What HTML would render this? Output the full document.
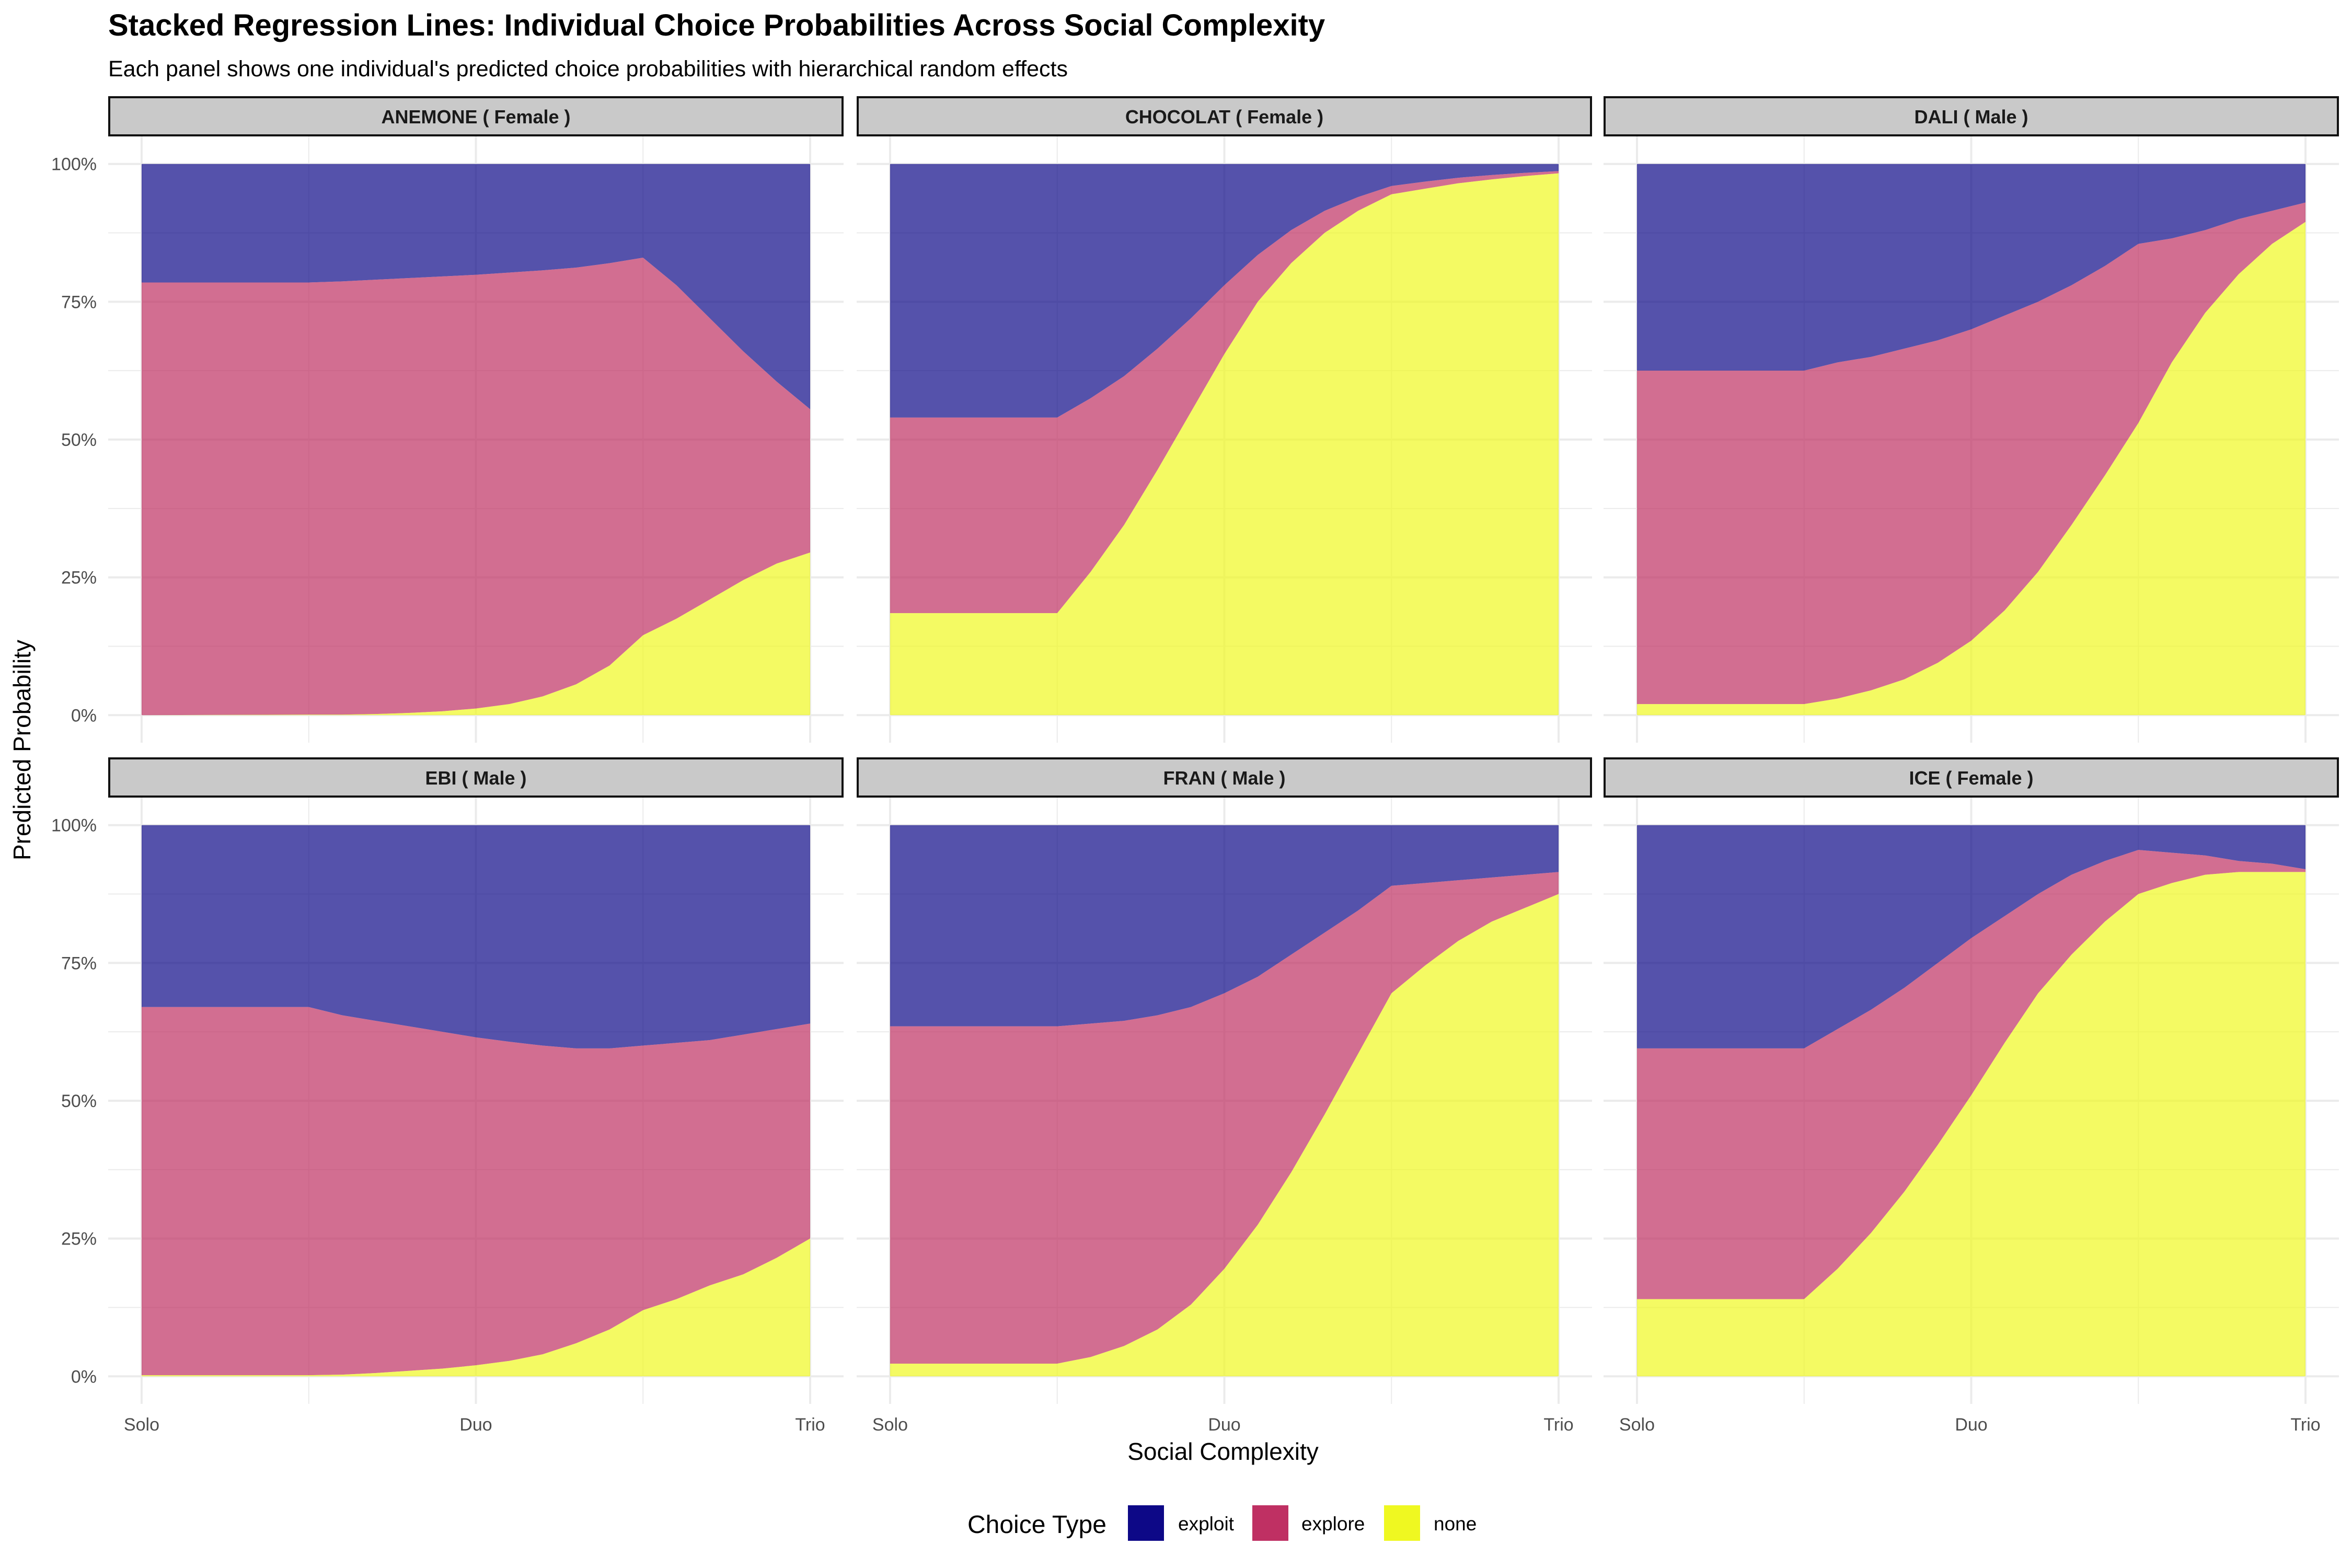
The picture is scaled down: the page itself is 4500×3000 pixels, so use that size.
<!DOCTYPE html>
<html><head><meta charset="utf-8"><style>
html,body{margin:0;padding:0;background:#fff}
svg{display:block;font-family:"Liberation Sans",sans-serif}
</style></head><body>
<svg id="chart" width="4500" height="3000" viewBox="0 0 4500 3000" xmlns="http://www.w3.org/2000/svg">
<text x="207" y="68" font-size="58" font-weight="bold" fill="#000">Stacked Regression Lines: Individual Choice Probabilities Across Social Complexity</text>
<text x="207" y="146" font-size="43" fill="#000">Each panel shows one individual's predicted choice probabilities with hierarchical random effects</text>
<g id="panels"></g>
<text x="2340" y="2793" font-size="46" text-anchor="middle" fill="#000">Social Complexity</text>
<text transform="translate(58,1435) rotate(-90)" font-size="46" text-anchor="middle" fill="#000">Predicted Probability</text>
<g>
<text x="1851" y="2933" font-size="48" fill="#000">Choice Type</text>
<rect x="2158" y="2880" width="69" height="68" fill="#0D0887"/>
<text x="2254" y="2928" font-size="37" fill="#000">exploit</text>
<rect x="2396" y="2880" width="69" height="68" fill="#BF3063"/>
<text x="2490" y="2928" font-size="37" fill="#000">explore</text>
<rect x="2648" y="2880" width="69" height="68" fill="#EFF821"/>
<text x="2743" y="2928" font-size="37" fill="#000">none</text>
</g>
</svg>
<script>
const xValues=[1,1.5,1.6,1.7,1.8,1.9,2.0,2.1,2.2,2.3,2.4,2.5,2.6,2.7,2.8,2.9,3.0];
const xTickLabels=["Solo","Duo","Trio"];
const yTickLabels=["0%","25%","50%","75%","100%"];
const panelTitles=["ANEMONE ( Female )","CHOCOLAT ( Female )","DALI ( Male )","EBI ( Male )","FRAN ( Male )","ICE ( Female )"];
// cumulative "none" share (%)
const noneAnemone=[0,0.1,0.1,0.2,0.4,0.7,1.2,2,3.4,5.6,9,14.5,17.5,21,24.5,27.5,29.5];
const noneChocolat=[18.5,18.5,26,34.5,44.5,55,65.5,75,82,87.5,91.5,94.5,95.5,96.5,97.2,97.8,98.3];
const noneDali=[2,2,3,4.5,6.5,9.5,13.5,19,26,34.5,43.5,53,64,73,80,85.5,89.5];
const noneEbi=[0.2,0.2,0.3,0.6,1,1.4,2,2.8,4,6,8.5,12,14,16.5,18.5,21.5,25];
const noneFran=[2.3,2.3,3.5,5.5,8.5,13,19.5,27.5,37,47.5,58.5,69.5,74.5,79,82.5,85,87.5];
const noneIce=[14,14,19.5,26,33.5,42,51,60.5,69.5,76.5,82.5,87.5,89.5,91,91.5,91.5,91.5];
// cumulative none+explore (%)
const topAnemone=[78.5,78.5,78.7,79,79.3,79.6,79.9,80.3,80.7,81.2,82,83,78,72,66,60.5,55.5];
const topChocolat=[54,54,57.5,61.5,66.5,72,78,83.5,88,91.5,94,96,96.8,97.5,98,98.4,98.7];
const topDali=[62.5,62.5,64,65,66.5,68,70,72.5,75,78,81.5,85.5,86.5,88,90,91.5,93];
const topEbi=[67,67,65.5,64.5,63.5,62.5,61.5,60.7,60,59.5,59.5,60,60.5,61,62,63,64];
const topFran=[63.5,63.5,64,64.5,65.5,67,69.5,72.5,76.5,80.5,84.5,89,89.5,90,90.5,91,91.5];
const topIce=[59.5,59.5,63,66.5,70.5,75,79.5,83.5,87.5,91,93.5,95.5,95,94.5,93.5,93,92];
const noneSeries=[noneAnemone,noneChocolat,noneDali,noneEbi,noneFran,noneIce];
const topSeries=[topAnemone,topChocolat,topDali,topEbi,topFran,topIce];

const NS="http://www.w3.org/2000/svg";
const g=document.getElementById('panels');
const colL=[207,1639,3068], W=1407;
const rowTop=[184,1449], stripH=77, plotH=1160;
function mk(t,a,p){const e=document.createElementNS(NS,t);for(const k in a)e.setAttribute(k,a[k]);(p||g).appendChild(e);return e;}
for(let i=0;i<6;i++){
  const c=i%3,r=Math.floor(i/3);
  const L=colL[c], ST=rowTop[r], T=ST+stripH, B=T+plotH;
  const xs=v=>L+W*(v-0.9)/2.2;
  const ys=v=>B-plotH*((v/100)+0.05)/1.1;
  const pg=mk('g',{});
  
  
  for(let k=0;k<9;k++){const v=k*12.5;const ln=mk('line',{x1:L,x2:L+W,y1:ys(v),y2:ys(v),stroke:'#ebebeb','stroke-width':k%2?2:4},pg);}
  for(let k=0;k<5;k++){const v=1+k*0.5;const ln=mk('line',{x1:xs(v),x2:xs(v),y1:T,y2:B,stroke:'#ebebeb','stroke-width':k%2?2:4},pg);}
  const ns=noneSeries[i], ts=topSeries[i];
  const pts=a=>a.map((v,j)=>xs(xValues[j])+','+ys(v)).join(' ');
  const rev=a=>a.map((v,j)=>xs(xValues[j])+','+ys(v)).reverse().join(' ');
  const full=xValues.map(()=>100), zero=xValues.map(()=>0);
  const a1=mk('polygon',{points:pts(full)+' '+rev(ts),fill:'#0D0887','fill-opacity':0.7},pg);
  
  const a2=mk('polygon',{points:pts(ts)+' '+rev(ns),fill:'#BF3063','fill-opacity':0.7},pg);
  
  const a3=mk('polygon',{points:pts(ns)+' '+rev(zero),fill:'#EFF821','fill-opacity':0.7},pg);
  
  const sr=mk('rect',{x:L+2,y:ST+2,width:W-4,height:stripH-4,fill:'#c9c9c9',stroke:'#111','stroke-width':4},pg);
  
  const stx=mk('text',{x:L+W/2,y:ST+52,'font-size':36,'font-weight':'bold','text-anchor':'middle',fill:'#1a1a1a'},pg);
  
  stx.textContent=panelTitles[i];
  if(c===0){for(let k=0;k<5;k++){const t=mk('text',{x:L-22,y:ys(k*25)+12,'font-size':34,'text-anchor':'end',fill:'#4d4d4d'},pg);t.textContent=yTickLabels[k];}}
  if(r===1){for(let k=0;k<3;k++){const t=mk('text',{x:xs(1+k),y:2737,'font-size':34,'text-anchor':'middle',fill:'#4d4d4d'},pg);t.textContent=xTickLabels[k];}}
}
</script>
</body></html>
